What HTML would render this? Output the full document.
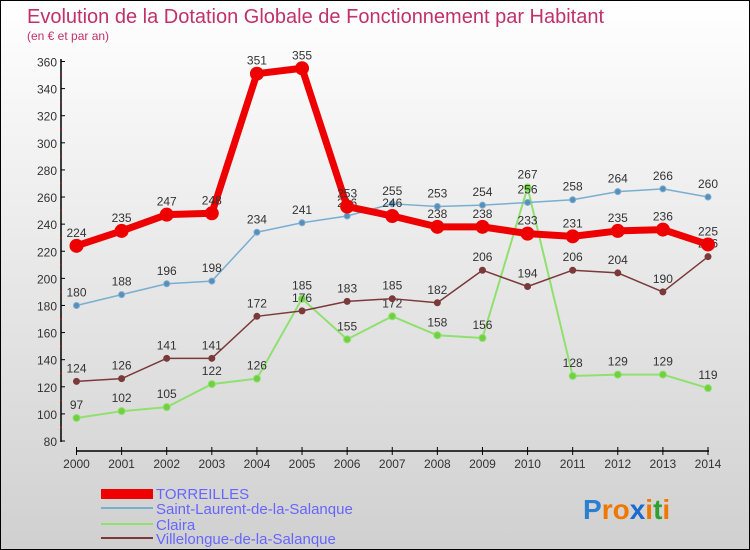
<!DOCTYPE html>
<html><head><meta charset="utf-8"><style>
body{margin:0}
#c{width:750px;height:550px;position:relative;box-sizing:border-box;border:1px solid #000;background:linear-gradient(#fff,#d0d0d0);font-family:"Liberation Sans",sans-serif;overflow:hidden}
svg text{font-family:"Liberation Sans",sans-serif}
</style></head><body>
<div id="c">
<svg id="s" width="750" height="550">
<text x="26" y="22" font-size="20" fill="#c0306a">Evolution de la Dotation Globale de Fonctionnement par Habitant</text>
<text x="26" y="39" font-size="12" fill="#c0306a">(en € et par an)</text>
<g id="axes"></g><g id="series"></g>
<g>
<rect x="100" y="488" width="52" height="10" fill="#e00"/>
<text x="155" y="498" font-size="15" fill="#6666ff">TORREILLES</text>
<rect x="100" y="506" width="52" height="2" fill="#7aaed0"/>
<text x="155" y="513" font-size="15" fill="#6666ff">Saint-Laurent-de-la-Salanque</text>
<rect x="100" y="522" width="52" height="2" fill="#90e070"/>
<text x="155" y="529" font-size="15" fill="#6666ff">Claira</text>
<rect x="100" y="536" width="52" height="2" fill="#7a3a3a"/>
<text x="155" y="543" font-size="15" fill="#6666ff">Villelongue-de-la-Salanque</text>
</g>
<text x="582" y="518" font-size="28" font-weight="bold"><tspan fill="#2a7fd0">P</tspan><tspan fill="#f07800">r</tspan><tspan fill="#f07800">o</tspan><tspan fill="#1a6ad0">x</tspan><tspan fill="#f07800">i</tspan><tspan fill="#30a030">t</tspan><tspan fill="#f07800">i</tspan></text>
</svg></div>
<script>
const years=[2000,2001,2002,2003,2004,2005,2006,2007,2008,2009,2010,2011,2012,2013,2014];
const torreilles=[224,235,247,248,351,355,253,246,238,238,233,231,235,236,225];
const saintLaurent=[180,188,196,198,234,241,246,255,253,254,256,258,264,266,260];
const claira=[97,102,105,122,126,185,155,172,158,156,267,128,129,129,119];
const villelongue=[124,126,141,141,172,176,183,185,182,206,194,206,204,190,216];
const yTicks=[80,100,120,140,160,180,200,220,240,260,280,300,320,340,360];
const NS="http://www.w3.org/2000/svg";
const xs=i=>75.5+i*(707-75.5)/(years.length-1);
const ys=v=>440-(v-80)*(379.5/280);
function mk(tag,at,parent){const e=document.createElementNS(NS,tag);for(const k in at)e.setAttribute(k,at[k]);parent.appendChild(e);return e;}
const ax=document.getElementById('axes');
let l=mk('line',{x1:60,y1:58,x2:60,y2:441,stroke:'#000','stroke-width':1.5},ax);


l=mk('line',{x1:75,y1:450,x2:708,y2:450,stroke:'#000','stroke-width':1.5},ax);


yTicks.forEach(v=>{const y=ys(v);
 mk('line',{x1:60,y1:y,x2:64,y2:y,stroke:'#000'},ax);
 if(v<360)mk('line',{x1:59,y1:y-13.5,x2:61,y2:y-13.5,stroke:'#e00'},ax);
 const t=mk('text',{x:56,y:y+5,'font-size':12,fill:'#333','text-anchor':'end'},ax);t.textContent=v;
 
 });
years.forEach((yr,i)=>{const x=xs(i);
 mk('line',{x1:x,y1:446,x2:x,y2:454,stroke:'#000'},ax);
 const t=mk('text',{x:x,y:467,'font-size':12,fill:'#333','text-anchor':'middle'},ax);t.textContent=yr;
 
 });
const sg=document.getElementById('series');
function draw(name,data,color,w,r,fill){
 const g=mk('g',{},sg);
 
 
 const p=mk('polyline',{points:data.map((v,i)=>xs(i)+','+ys(v)).join(' '),fill:'none',stroke:color,'stroke-width':w,'stroke-linejoin':'round'},g);
 
 
 data.forEach((v,i)=>{const c=mk('circle',{cx:xs(i),cy:ys(v),r:r,fill:fill,stroke:color,'stroke-width':1},g);
  
  
  const t=mk('text',{x:xs(i),y:ys(v)-9,'font-size':12,fill:'#333','text-anchor':'middle'},g);t.textContent=v;
  
  });
}
draw('claira',claira,'#90e070',2,3.5,'#70d040');
draw('villelongue',villelongue,'#7a3a3a',1.5,3,'#7a3a3a');
draw('saint-laurent',saintLaurent,'#7aaed0',1.5,3,'#5a8eb8');
draw('torreilles',torreilles,'#e00',7,6.5,'#e00');
</script>
</body></html>
